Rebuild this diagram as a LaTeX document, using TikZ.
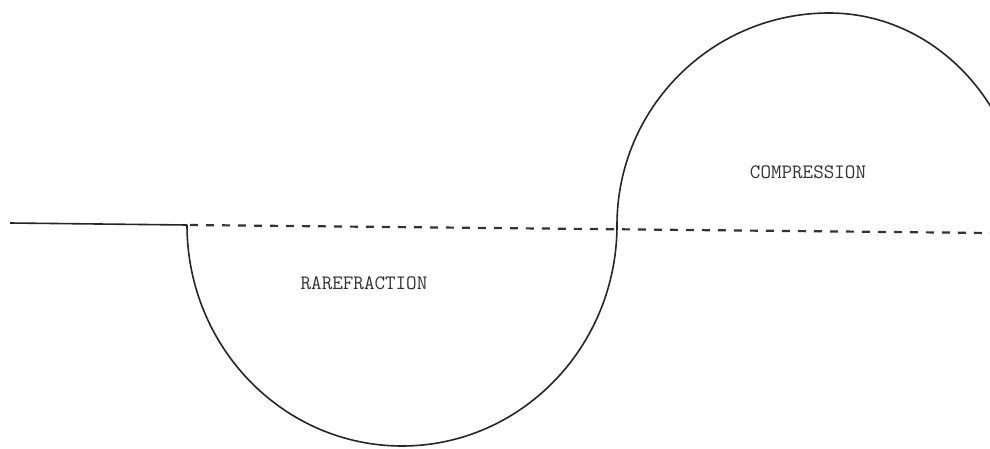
\documentclass[tikz,border=0pt]{standalone}
\begin{document}
\begin{tikzpicture}[x=1pt,y=1pt,
  curve/.style={line width=1.6pt, draw=black!85},
  axisdash/.style={line width=2.2pt, draw=black!80, dash pattern=on 8pt off 8pt},
  lbl/.style={font=\ttfamily\fontsize{20.5}{22}\selectfont, text=black!80, inner sep=0pt}]
\useasboundingbox (0,0) rectangle (990,448);
\clip (0,0) rectangle (990,448);
\fill[white] (0,0) rectangle (990,448);
% axis
\coordinate (s) at (10,225);
\coordinate (a) at (187,223);
\coordinate (e) at (990,215);
\draw[curve] (s) -- (a);
\draw[axisdash] (190,223) -- (e);
% rarefraction lobe (below)
\draw[curve] (a) arc[start angle=180, end angle=360, x radius=215pt, y radius=221pt]
  coordinate (m);
% compression lobe (above)
\draw[curve] (m) arc[start angle=180, end angle=90, x radius=212pt, y radius=212pt]
  arc[start angle=90, end angle=0, x radius=195pt, y radius=212pt];
% labels
\node[lbl] (rare) at (364,165) {RAREFRACTION};
\node[lbl] (comp) at (808,276) {COMPRESSION};
\end{tikzpicture}
\end{document}
